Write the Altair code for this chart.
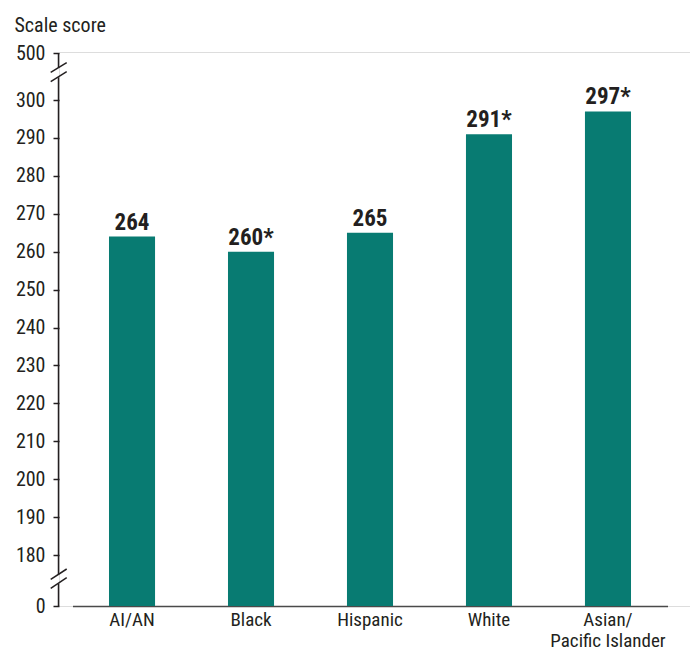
import altair as alt
import pandas as pd

groups = ["AI/AN", "Black", "Hispanic", "White", "Asian/Pacific Islander"]
scores = [264, 260, 265, 291, 297]
score_labels = ["264", "260*", "265", "291*", "297*"]

y_ticks = [0, 180, 190, 200, 210, 220, 230, 240, 250, 260, 270, 280, 290, 300, 500]

# axis-line segments (in score units) around the two breaks
axis_seg_start = [0, 111, 437]
axis_seg_end = [79, 397, 500]

# break slashes: score at left end / right end
break_y1 = [94, 62.5, 418.6, 378.4]
break_y2 = [130.6, 99.9, 459.7, 421.2]

FONT = "Roboto Condensed, DejaVu Sans Condensed, sans-serif"
INK = "#231F20"
BAR = "#087B72"

df = pd.DataFrame({"group": groups, "score": scores, "label": score_labels})
seg = pd.DataFrame({"a": axis_seg_start, "b": axis_seg_end})
brk = pd.DataFrame({"y1": break_y1, "y2": break_y2})

yscale = alt.Scale(domain=[0, 180, 300, 500], range=[554, 503, 48, 1.3], nice=False, zero=False)
xscale = alt.Scale(domain=groups, range=[13.5, 608.5], paddingInner=0.613, paddingOuter=0.3067)

base = alt.Chart(df)

bars = base.mark_bar(color=BAR).encode(
    x=alt.X("group:N", scale=xscale, sort=groups,
            axis=alt.Axis(title=None, labelAngle=0, ticks=False, labelFont=FONT,
                          labelFontSize=19, labelColor=INK, labelPadding=4,
                          labelLineHeight=21, domainColor="#4a4a4a", domainWidth=1.5,
                          labelOverlap=False,
                          labelExpr="datum.value == 'Asian/Pacific Islander' ? ['Asian/', 'Pacific Islander'] : datum.label")),
    y=alt.Y("score:Q", scale=yscale,
            axis=alt.Axis(values=y_ticks, tickCount=40, domain=False, grid=False, tickSize=6,
                          tickWidth=1.5, tickColor=INK, labelFont=FONT, labelFontSize=20,
                          labelColor=INK, labelPadding=8, labelOverlap=False,
                          labelBaseline="middle",
                          title="Scale score", titleAngle=0, titleAlign="left",
                          titleBaseline="alphabetic", titleX=-45, titleY=-21, titleFont=FONT,
                          titleFontSize=20, titleFontWeight="normal", titleColor=INK)),
)

texts = base.mark_text(baseline="bottom", dy=-2, font=FONT, fontSize=23,
                       fontWeight="bold", color=INK).encode(
    x=alt.X("group:N", scale=xscale, sort=groups),
    y=alt.Y("score:Q", scale=yscale),
    text="label:N",
)

axis_line = alt.Chart(seg).mark_rule(color=INK, strokeWidth=1.5).encode(
    x=alt.value(-0.5),
    y=alt.Y("a:Q", scale=yscale),
    y2="b:Q",
)

breaks = alt.Chart(brk).mark_rule(color=INK, strokeWidth=1.5).encode(
    x=alt.value(-8.3),
    x2=alt.value(7.7),
    y=alt.Y("y1:Q", scale=yscale),
    y2="y2:Q",
)

chart = alt.layer(bars, texts, axis_line, breaks).properties(
    width=631,
    height=554,
    autosize=alt.AutoSizeParams(type="none"),
    padding={"left": 51, "top": 44, "right": 0, "bottom": 45},
).configure_view(fill="#F1F2F4", stroke=None).configure(background="white")

chart.save("out.html", embed_options={"renderer": "svg", "actions": False})
